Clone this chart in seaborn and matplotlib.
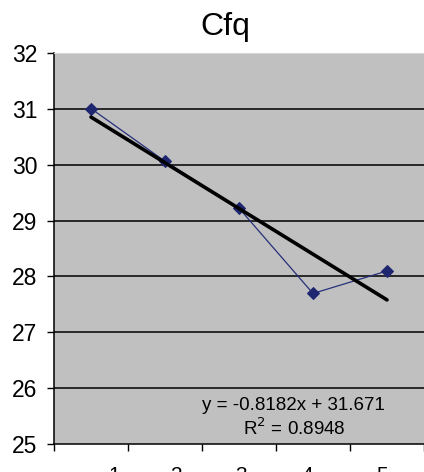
import numpy as np
import pandas as pd
import matplotlib
matplotlib.use("Agg")
import matplotlib.pyplot as plt
import matplotlib.transforms as mtransforms
import seaborn as sns

# Measurements for Cfq across five samples
samples = [1, 2, 3, 4, 5]
cfq = [31.0058, 30.0616, 29.2214, 27.6952, 28.098]
tick_labels = ["1", "2", "3", "4", "5"]

# Linear trendline parameters
slope = -0.8182
intercept = 31.671
r_squared = 0.8948

sns.set_style("white")
plt.rcParams["font.family"] = ["Liberation Sans", "DejaVu Sans"]
plt.rcParams["text.color"] = "black"
plt.rcParams["xtick.color"] = "black"
plt.rcParams["ytick.color"] = "black"
plt.rcParams["xtick.labelcolor"] = "black"
plt.rcParams["ytick.labelcolor"] = "black"

df = pd.DataFrame({"sample": samples, "cfq": cfq})
trend = pd.DataFrame({"sample": [samples[0], samples[-1]]})
trend["cfq"] = slope * trend["sample"] + intercept

fig = plt.figure(figsize=(4.24, 4.72), dpi=100)
ax = fig.add_axes([54 / 424, 28 / 472, 1 - 54 / 424, 391 / 472])
ax.set_facecolor("#c0c0c0")

# horizontal gridlines
for yv in range(26, 32):
    ax.axhline(yv, color="black", lw=1.1, zorder=1)

sns.lineplot(data=df, x="sample", y="cfq", ax=ax, color="#27307a", lw=0.9,
             marker="D", markersize=6, markeredgecolor="#1f2670",
             markerfacecolor="#1f2670", zorder=3)
sns.lineplot(data=trend, x="sample", y="cfq", ax=ax, color="black", lw=2.6,
             zorder=4)

ax.set_xlim(0.5, 5.42)
ax.set_ylim(25, 32)
ax.set_xlabel("")
ax.set_ylabel("")

# y axis
ax.set_yticks(range(25, 33))
ax.tick_params(axis="y", which="major", length=5, width=1, color="black",
               labelsize=16.5, pad=7, left=True, labelcolor="black")

# x axis: tick marks between categories, labels below
ax.set_xticks(samples)
ax.set_xticklabels(tick_labels)
ax.set_xticks(np.arange(0.5, 6.0, 1.0), minor=True)
ax.tick_params(axis="x", which="major", length=0, labelsize=15, pad=16,
               labelcolor="black")
ax.tick_params(axis="x", which="minor", length=5, width=1, color="black",
               bottom=True)
label_shift = [23, 12, 2, -6, -5]
for lab, dx in zip(ax.get_xticklabels(), label_shift):
    lab.set_transform(lab.get_transform() +
                      mtransforms.ScaledTranslation(dx / 100, 0, fig.dpi_scale_trans))

ax.spines["right"].set_visible(False)
ax.spines["top"].set_color("#d6d6d6")
ax.spines["top"].set_linewidth(0.8)
ax.spines["left"].set_color("black")
ax.spines["left"].set_linewidth(1.1)
ax.spines["bottom"].set_color("black")
ax.spines["bottom"].set_linewidth(1.1)

eq = f"y = {slope:.4f}x + {intercept:.3f}"
ax.text((293 - 54) / 370, 1 - (405 - 53) / 391, eq,
        transform=ax.transAxes, ha="center", va="center", fontsize=13.5,
        color="black")
ax.text((294 - 54) / 370, 1 - (428 - 53) / 391, f"R$^2$ = {r_squared:.4f}",
        transform=ax.transAxes, ha="center", va="center", fontsize=13.5,
        color="black")

fig.text(225 / 424, 1 - 27 / 472, "Cfq", ha="center", va="center",
         fontsize=23, color="black")

fig.savefig("out.png", dpi=100, facecolor="white")
